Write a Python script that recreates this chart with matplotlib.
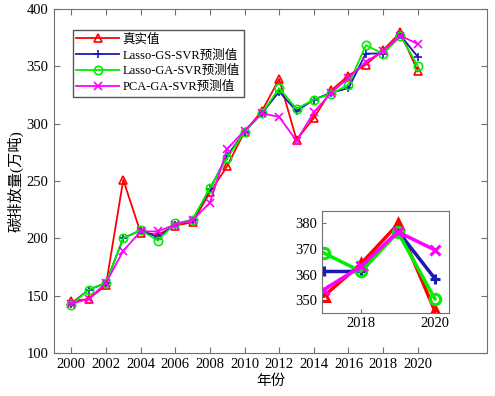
import numpy as np
import matplotlib
matplotlib.use("Agg")
import matplotlib.pyplot as plt

plt.rcParams['font.family'] = ['Liberation Serif', 'Noto Sans CJK SC']
plt.rcParams['axes.unicode_minus'] = False

years = np.arange(2000, 2021)
true_vals = [145, 147, 159, 251, 205, 203, 211, 214, 240, 263, 293, 311, 339, 286, 305,
             329, 342, 351.6, 364.2, 379.7, 345.7]
gs_svr = [143, 155, 161, 200, 207, 201, 212, 216, 243, 272, 293, 309, 328, 311, 321,
          327, 331, 361.2, 361.2, 377, 358.4]
ga_svr = [142, 155, 161, 200, 207, 198, 213, 216, 244, 270, 293, 309, 331, 313, 321,
          326, 334, 368.4, 361.2, 376.5, 350.5]
pca_svr = [143, 147, 161, 189, 206, 206, 212, 216, 231, 278, 294, 309, 306, 285, 310,
           327, 340, 354.1, 363.2, 376.7, 369.6]

labels = ['真实值', 'Lasso-GS-SVR预测值', 'Lasso-GA-SVR预测值', 'PCA-GA-SVR预测值']
colors = ['#ff0000', '#1a1ab4', '#00ee00', '#ff00ff']
markers = ['^', '+', 'o', 'x']
series = [true_vals, gs_svr, ga_svr, pca_svr]

spine_col = '#707070'

fig = plt.figure(figsize=(4.95, 3.96), dpi=100)
ax = fig.add_axes([0.109, 0.109, 0.875, 0.868])

for vals, c, m, lab in zip(series, colors, markers, labels):
    ax.plot(years, vals, color=c, marker=m, lw=1.3, ms=6, mfc='none', mew=1.2, label=lab)

ax.set_xlim(1999, 2024)
ax.set_ylim(100, 400)
ax.set_xticks(np.arange(2000, 2021, 2))
ax.set_yticks(np.arange(100, 401, 50))
ax.tick_params(direction='in', length=4, top=True, right=True, labelsize=10.5,
               color=spine_col, pad=4)
for s in ax.spines.values():
    s.set_color(spine_col)
ax.set_xlabel('年份', fontsize=10.5, labelpad=2)
ax.set_ylabel('碳排放量(万吨)', fontsize=11, labelpad=2)

leg = ax.legend(loc='upper left', bbox_to_anchor=(0.043, 0.94), fontsize=9,
                handlelength=3.4, handletextpad=0.3, labelspacing=0.3,
                borderpad=0.3, fancybox=False, framealpha=1, borderaxespad=0)
leg.get_frame().set_edgecolor('#555555')
leg.get_frame().set_linewidth(1.0)

# inset zoom on 2017-2020
axin = fig.add_axes([0.650, 0.210, 0.257, 0.258])
for vals, c, m in zip(series, colors, markers):
    axin.plot(years[-4:], vals[-4:], color=c, marker=m, lw=2.5, ms=7.5, mfc='none', mew=2.2)
axin.set_xlim(2016.94, 2020.38)
axin.set_ylim(345, 385)
axin.set_xticks([2018, 2020])
axin.set_yticks([350, 360, 370, 380])
axin.tick_params(direction='in', length=3, labelsize=10.5, color=spine_col, pad=3)
for s in axin.spines.values():
    s.set_color(spine_col)

fig.savefig('out.png', dpi=100)
